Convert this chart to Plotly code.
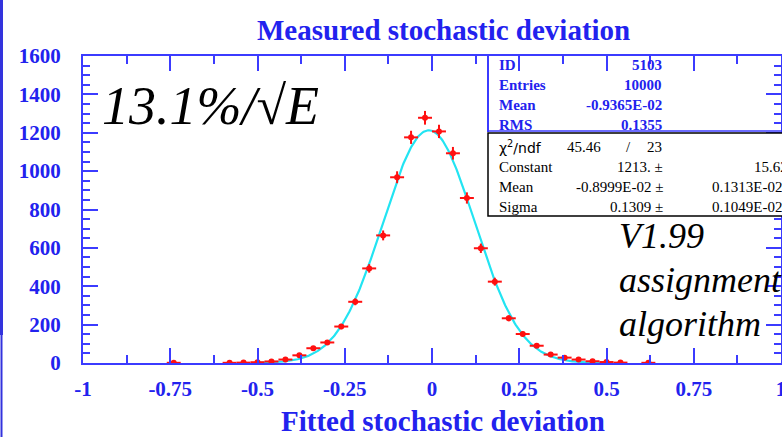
import numpy as np
import plotly.graph_objects as go

# ---------------- data ----------------
bin_centers = [-0.74, -0.58, -0.54, -0.50, -0.46, -0.42, -0.38, -0.34, -0.30, -0.26,
               -0.22, -0.18, -0.14, -0.10, -0.06, -0.02, 0.02, 0.06, 0.10, 0.14,
               0.18, 0.22, 0.26, 0.30, 0.34, 0.38, 0.42, 0.46, 0.50, 0.54, 0.62]
counts = [1, 1, 2, 4, 8, 18, 40, 77, 107, 190,
          319, 493, 665, 968, 1176, 1278, 1207, 1093, 860, 598,
          424, 233, 151, 90, 44, 28, 18, 9, 5, 2, 1]
bin_half_width = 0.02

# Gaussian fit parameters (from the stats box)
fit_constant = 1213.0
fit_mean = -0.8999e-02
fit_sigma = 0.1309
fit_range = [-0.5, 0.5]

x_tickvals = [-1, -0.75, -0.5, -0.25, 0, 0.25, 0.5, 0.75, 1]
x_ticktext = ["-1", "-0.75", "-0.5", "-0.25", "0", "0.25", "0.5", "0.75", "1"]
y_tickvals = [0, 200, 400, 600, 800, 1000, 1200, 1400, 1600]
y_ticktext = [str(v) for v in y_tickvals]

stats_top = [("ID", "5103"), ("Entries", "10000"), ("Mean", "-0.9365E-02"), ("RMS", "0.1355")]
stats_fit = [("Constant", "1213.", "15.62"),
             ("Mean", "-0.8999E-02", "0.1313E-02"),
             ("Sigma", "0.1309", "0.1049E-02")]
chi2_text = ("45.46", "23")

title_text = "Measured stochastic deviation"
xlabel_text = "Fitted stochastic deviation"
big_label = "13.1%/√E"
side_lines = ["V1.99", "assignment", "algorithm"]

# ---------------- layout geometry ----------------
W, H = 782, 437
L, R, T, B = 83, 1, 56, 74
PW, PH = W - L - R, H - T - B

def px(x):
    return (x - L) / PW

def py(y):
    return (H - B - y) / PH

BLUE = "#2222ee"
LINE_BLUE = "#3b3bff"
RED = "#ff1010"
CYAN = "#22e4f2"
SERIF = "Liberation Serif, Times New Roman, serif"

fig = go.Figure()

# fitted gaussian
xf = np.linspace(fit_range[0], fit_range[1], 400)
yf = fit_constant * np.exp(-0.5 * ((xf - fit_mean) / fit_sigma) ** 2)
fig.add_trace(go.Scatter(x=xf, y=yf, mode="lines",
                         line=dict(color=CYAN, width=2.2), hoverinfo="skip"))

# histogram points with error bars
fig.add_trace(go.Scatter(
    x=bin_centers, y=counts, mode="markers",
    marker=dict(color=RED, size=6, symbol="circle"),
    error_x=dict(type="constant", value=bin_half_width, color=RED, thickness=2, width=0),
    error_y=dict(type="sqrt", color=RED, thickness=2, width=0),
))

axis_common = dict(
    showline=True, linecolor=LINE_BLUE, linewidth=2, mirror="ticks",
    ticks="inside", tickcolor=LINE_BLUE, tickwidth=2, ticklen=15,
    showgrid=False, zeroline=False, automargin=False, ticklabeloverflow="allow",
    tickfont=dict(family=SERIF, size=21, color=BLUE, weight="bold"),
)

fig.update_xaxes(range=[-1, 1], tickvals=x_tickvals, ticktext=x_ticktext,
                 minor=dict(tickvals=[v + 0.125 for v in x_tickvals[:-1]], ticks="inside",
                            ticklen=8, tickcolor=LINE_BLUE, tickwidth=2),
                 ticklabelstandoff=6, **axis_common)
fig.update_yaxes(range=[0, 1600], tickvals=y_tickvals, ticktext=y_ticktext,
                 minor=dict(dtick=50, ticks="inside", ticklen=7,
                            tickcolor=LINE_BLUE, tickwidth=2),
                 ticklabelstandoff=16, **axis_common)

shapes = []
# slide border on the left
shapes.append(dict(type="line", xref="paper", yref="paper", x0=px(1.5), x1=px(1.5),
                   y0=py(0), y1=py(335), line=dict(color="#3333dd", width=3)))
shapes.append(dict(type="line", xref="paper", yref="paper", x0=px(1.5), x1=px(1.5),
                   y0=py(335), y1=py(437), line=dict(color="#3333dd", width=2)))
# stats box: top (blue) section
shapes.append(dict(type="line", xref="paper", yref="paper", x0=px(488), x1=px(488),
                   y0=py(56), y1=py(132), line=dict(color=LINE_BLUE, width=2)))
# fit section (black)
shapes.append(dict(type="rect", xref="paper", yref="paper", x0=px(488), x1=px(790),
                   y0=py(216), y1=py(133), fillcolor="white",
                   line=dict(color="black", width=1.5)))
shapes.append(dict(type="line", xref="paper", yref="paper", x0=px(488), x1=px(790),
                   y0=py(131), y1=py(131), line=dict(color=LINE_BLUE, width=1.5)))

ann = []

def text(x, y, s, size, color="black", xanchor="left", family=SERIF, **kw):
    ann.append(dict(x=px(x), y=py(y), xref="paper", yref="paper", text=s,
                    showarrow=False, xanchor=xanchor, yanchor="middle",
                    font=dict(family=family, size=size, color=color, **kw)))

text(443, 30, "<b>" + title_text + "</b>", 29, BLUE, "center")
text(443, 421, "<b>" + xlabel_text + "</b>", 29, BLUE, "center")
text(100, 106, "<i>" + big_label + "</i>", 54, "black")
for i, s in enumerate(side_lines):
    text(617, 236 + i * 44, "<i>" + s + "</i>", 36, "black")

for i, (lab, val) in enumerate(stats_top):
    y = 65 + 20 * i
    text(497, y, "<b>" + lab + "</b>", 15, BLUE)
    text(664, y, "<b>" + val + "</b>", 15, BLUE, "right")

text(497, 147, "χ<sup>2</sup>/ndf", 14, "black", family="DejaVu Sans, sans-serif")
text(603, 147, chi2_text[0], 15, "black", "right")
text(628, 147, "/", 15, "black", "center")
text(664, 147, chi2_text[1], 15, "black", "right")
for i, (lab, val, err) in enumerate(stats_fit):
    y = 167 + 20 * i
    text(497, y, lab, 15, "black")
    text(665, y, val + " ±", 15, "black", "right")
    text(710 if len(err) > 6 else 752, y, err, 15, "black")

fig.update_layout(
    width=W, height=H, margin=dict(l=L, r=R, t=T, b=B),
    paper_bgcolor="white", plot_bgcolor="white", showlegend=False,
    shapes=shapes, annotations=ann,
)

fig.write_html("out.html", config={"displayModeBar": False},
               post_script="document.body.style.margin='0';document.body.style.overflow='hidden';")
